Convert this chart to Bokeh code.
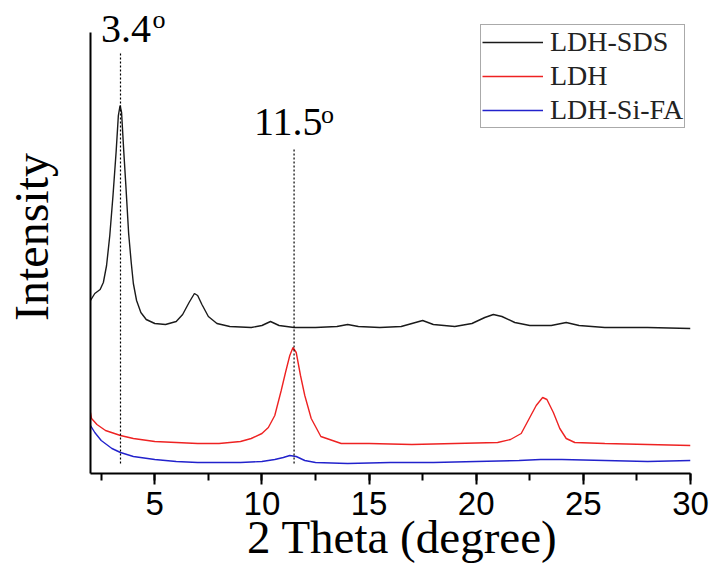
from bokeh.plotting import figure
from bokeh.models import (Range1d, SingleIntervalTicker, FixedTicker, Legend, LegendItem, Label)
from bokeh.embed import file_html
from bokeh.resources import INLINE

# ---- data (2 Theta in degrees, intensity in arbitrary units) ----
sds_x = [2.0, 2.2, 2.45, 2.6, 2.75, 2.9, 3.05, 3.2, 3.3, 3.38, 3.45, 3.55, 3.65, 3.78, 3.9, 4.0,
         4.15, 4.35, 4.6, 5.0, 5.5, 6.0, 6.3, 6.6, 6.85, 7.0, 7.2, 7.5, 7.9, 8.5, 9.5, 10.0, 10.4,
         10.8, 11.5, 12.5, 13.5, 14.0, 14.5, 15.5, 16.5, 17.0, 17.5, 18.0, 19.0, 19.8, 20.4, 20.8,
         21.2, 21.8, 22.5, 23.5, 24.2, 24.8, 26.0, 28.0, 30.0]
sds_y = [173, 180, 184, 191, 208, 238, 278, 323, 358, 368, 361, 323, 288, 240, 211, 190,
         173, 161, 154, 150, 149, 152, 159, 171, 180, 178, 169, 157, 150, 147, 146, 148, 152,
         148, 146, 146, 147, 149, 147, 146, 147, 150, 153, 149, 147, 150, 156, 159,
         157, 151, 148, 148, 151, 148, 146, 146, 145]

ldh_x = [2.0, 2.05, 2.3, 2.7, 3.4, 4.0, 5.0, 6.0, 7.0, 8.0, 9.0, 9.5, 10.0, 10.3, 10.6, 10.9,
         11.1, 11.3, 11.45, 11.6, 11.8, 12.0, 12.3, 12.75, 13.7, 15.0, 17.0, 19.0, 21.0, 21.6,
         22.1, 22.5, 22.8, 23.1, 23.3, 23.6, 23.9, 24.2, 24.6, 26.0, 28.0, 30.0]
ldh_y = [61, 55, 49, 43, 38, 35, 32, 31, 30, 30, 32, 35, 40, 46, 58, 83,
         101, 118, 126, 121, 98, 78, 55, 37, 30, 30, 29, 30, 31, 34,
         40, 56, 68, 76, 74, 61, 45, 35, 31, 30, 29, 28]

sifa_x = [2.0, 2.2, 2.5, 3.0, 3.4, 4.0, 5.0, 6.0, 7.0, 8.0, 9.0, 10.0, 10.6, 11.0, 11.3, 11.6,
          12.0, 12.5, 14.0, 16.0, 18.0, 20.0, 22.0, 23.0, 24.0, 26.0, 28.0, 30.0]
sifa_y = [48, 41, 33, 25, 21, 17, 14, 12, 11, 11, 11, 12, 14, 16, 18, 17,
          13, 11, 10, 11, 11, 12, 13, 14, 14, 13, 12, 13]

series_names = ["LDH-SDS", "LDH", "LDH-Si-FA"]
peak_pos = [3.4, 11.5]
peak_text = ["3.4", "11.5"]

SERIF = "Liberation Serif"
SANS = "Liberation Sans"
NBSP = "\u00a0"

p = figure(width=712, height=568, output_backend="svg", toolbar_location=None,
           x_range=Range1d(2, 30), y_range=Range1d(0, 473),
           min_border_left=90, min_border_right=22, min_border_top=0, min_border_bottom=95)
p.outline_line_color = None
p.xgrid.visible = False
p.ygrid.visible = False
p.background_fill_color = "white"
p.border_fill_color = "white"

# x axis
xa = p.xaxis[0]
xa.ticker = SingleIntervalTicker(interval=5, num_minor_ticks=2)
xa.axis_line_width = 2
xa.axis_line_color = "black"
xa.major_tick_in = 0
xa.major_tick_out = 11
xa.minor_tick_in = 0
xa.minor_tick_out = 7
xa.major_tick_line_width = 2
xa.minor_tick_line_width = 2
xa.major_tick_line_color = "black"
xa.minor_tick_line_color = "black"
xa.major_label_text_font = SANS
xa.major_label_text_font_size = "33px"
xa.major_label_text_color = "black"
xa.major_label_standoff = 7
xa.axis_label = NBSP * 2 + "2 Theta (degree)"
xa.axis_label_text_font = SERIF
xa.axis_label_text_font_size = "47px"
xa.axis_label_text_font_style = "normal"
xa.axis_label_text_color = "black"
xa.axis_label_standoff = -7

# y axis
ya = p.yaxis[0]
ya.ticker = FixedTicker(ticks=[])
ya.bounds = (0, 441)
ya.axis_line_width = 2
ya.axis_line_color = "black"
ya.major_tick_line_color = None
ya.minor_tick_line_color = None
ya.axis_label = "Intensity"
ya.axis_label_text_font = SERIF
ya.axis_label_text_font_size = "48px"
ya.axis_label_text_font_style = "normal"
ya.axis_label_text_color = "black"
ya.axis_label_standoff = 33

# curves
r1 = p.line(sds_x, sds_y, line_color="#1a1a1a", line_width=1.4)
r2 = p.line(ldh_x, ldh_y, line_color="#ee2222", line_width=1.4)
r3 = p.line(sifa_x, sifa_y, line_color="#2222cc", line_width=1.4)

# dotted guide lines at the peak positions
p.segment(x0=peak_pos, y0=[10, 10], x1=peak_pos, y1=[420, 326],
          line_color="black", line_width=1.2, line_dash="2 2")

# peak annotations
main_y = [445, 352]
main_dx = [-19.5, -40]
sup_dx = [32, 27]
sup_dy = [9, 7]
for pos, txt, my, mdx, sdx, sdy in zip(peak_pos, peak_text, main_y, main_dx, sup_dx, sup_dy):
    p.add_layout(Label(x=pos, y=my, x_offset=mdx, text=txt, text_font=SERIF,
                       text_font_size="40px", text_color="black",
                       text_baseline="alphabetic", text_align="left"))
    p.add_layout(Label(x=pos, y=my, x_offset=sdx, y_offset=sdy, text="o", text_font=SERIF,
                       text_font_size="26px", text_color="black",
                       text_baseline="alphabetic", text_align="left"))

legend = Legend(items=[LegendItem(label=series_names[0], renderers=[r1]),
                       LegendItem(label=series_names[1], renderers=[r2]),
                       LegendItem(label=series_names[2], renderers=[r3])],
                location=(390, 345), orientation="vertical",
                label_text_font=SERIF, label_text_font_size="28px", label_text_color="#222222",
                border_line_color="#555555", border_line_width=1.5,
                background_fill_color="white", background_fill_alpha=1.0,
                padding=1, spacing=2, margin=0, glyph_width=61, glyph_height=32,
                label_height=32, label_standoff=7)
p.add_layout(legend)

open("out.html", "w").write(file_html(p, INLINE))
